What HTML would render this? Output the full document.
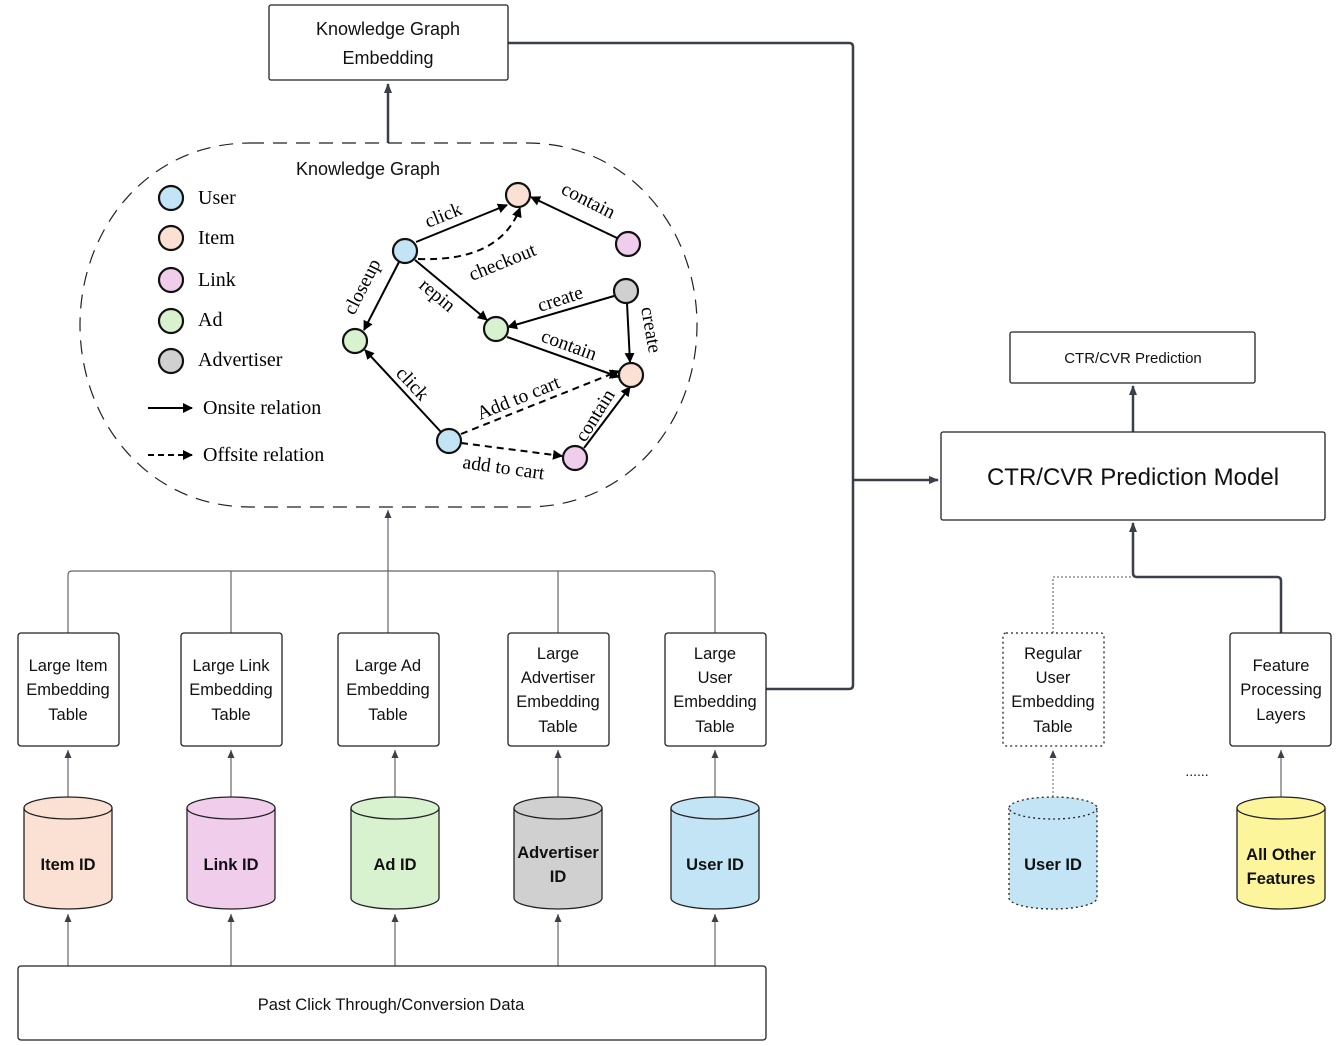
<!DOCTYPE html>
<html><head><meta charset="utf-8"><style>
html,body{margin:0;padding:0;background:#fff;}
svg{display:block;}
.s{font-family:"Liberation Sans",sans-serif;fill:#111;}
.r{font-family:"Liberation Serif",serif;fill:#000;}
</style></head><body>
<svg width="1337" height="1046" viewBox="0 0 1337 1046" xmlns="http://www.w3.org/2000/svg">
<defs>
<marker id="ab" markerWidth="10" markerHeight="10" refX="9" refY="5" orient="auto" markerUnits="userSpaceOnUse"><path d="M0,0 L10,5 L0,10 z" fill="#000"/></marker>
<marker id="ag" markerWidth="10" markerHeight="10" refX="9" refY="5" orient="auto" markerUnits="userSpaceOnUse"><path d="M0,1 L10,5 L0,9 z" fill="#3a3f4a"/></marker>
<marker id="as" markerWidth="8" markerHeight="8" refX="8" refY="4" orient="auto" markerUnits="userSpaceOnUse"><path d="M0,0.5 L8,4 L0,7.5 z" fill="#3a3f4a"/></marker>
</defs>

<g fill="none" stroke="#3a3f4a" stroke-width="2.5">
<path d="M508,43 H849 Q853,43 853,47 V685 Q853,689 849,689 H766"/>
<path d="M853,480 H938" marker-end="url(#ag)"/>
<path d="M388,143 V84" marker-end="url(#ag)"/>
<path d="M1133,432 V386" marker-end="url(#ag)"/>
<path d="M1281,633 V581 Q1281,577 1277,577 H1137 Q1133,577 1133,573 V523" marker-end="url(#ag)"/>
</g>
<path d="M1053,633 V577 H1133" fill="none" stroke="#555" stroke-width="1" stroke-dasharray="2,2"/>

<g fill="none" stroke="#666" stroke-width="1.2">
<path d="M68,633 V575 Q68,571 72,571 H711 Q715,571 715,575 V633"/>
<path d="M231,633 V571 M388,633 V571 M558,633 V571"/>
<path d="M388,571 V510" marker-end="url(#as)"/>
<path d="M68,797 V750" marker-end="url(#as)"/>
<path d="M231,797 V750" marker-end="url(#as)"/>
<path d="M395,797 V750" marker-end="url(#as)"/>
<path d="M558,797 V750" marker-end="url(#as)"/>
<path d="M715,797 V750" marker-end="url(#as)"/>
<path d="M1281,797 V750" marker-end="url(#as)"/>
<path d="M68,966 V914" marker-end="url(#as)"/>
<path d="M231,966 V914" marker-end="url(#as)"/>
<path d="M395,966 V914" marker-end="url(#as)"/>
<path d="M558,966 V914" marker-end="url(#as)"/>
<path d="M715,966 V914" marker-end="url(#as)"/>
</g>
<path d="M1053,797 V750" fill="none" stroke="#666" stroke-width="1" stroke-dasharray="2,2" marker-end="url(#as)"/>

<g fill="#fff" stroke="#222" stroke-width="1.3">
<rect x="269" y="5" width="239" height="75" rx="2"/>
<rect x="1010" y="332" width="245" height="51" rx="2"/>
<rect x="941" y="432" width="384" height="88" rx="2"/>
<rect x="18" y="633" width="101" height="113" rx="3"/>
<rect x="181" y="633" width="101" height="113" rx="3"/>
<rect x="338" y="633" width="101" height="113" rx="3"/>
<rect x="508" y="633" width="101" height="113" rx="3"/>
<rect x="665" y="633" width="101" height="113" rx="3"/>
<rect x="1230" y="633" width="101" height="113" rx="3"/>
<rect x="18" y="966" width="748" height="74" rx="3"/>
</g>
<rect x="1003" y="633" width="101" height="113" rx="3" fill="#fff" stroke="#222" stroke-width="1.3" stroke-dasharray="2,3"/>

<g class="s" font-size="18" text-anchor="middle">
<text x="388" y="35">Knowledge Graph</text>
<text x="388" y="64">Embedding</text>
</g>
<text class="s" x="1133" y="363" font-size="15" text-anchor="middle">CTR/CVR Prediction</text>
<text class="s" x="1133" y="485" font-size="24" text-anchor="middle">CTR/CVR Prediction Model</text>
<g class="s" font-size="16.5" text-anchor="middle">
<text x="68" y="671">Large Item</text><text x="68" y="695">Embedding</text><text x="68" y="720">Table</text>
<text x="231" y="671">Large Link</text><text x="231" y="695">Embedding</text><text x="231" y="720">Table</text>
<text x="388" y="671">Large Ad</text><text x="388" y="695">Embedding</text><text x="388" y="720">Table</text>
<text x="558" y="659">Large</text><text x="558" y="683">Advertiser</text><text x="558" y="707">Embedding</text><text x="558" y="732">Table</text>
<text x="715" y="659">Large</text><text x="715" y="683">User</text><text x="715" y="707">Embedding</text><text x="715" y="732">Table</text>
<text x="1053" y="659">Regular</text><text x="1053" y="683">User</text><text x="1053" y="707">Embedding</text><text x="1053" y="732">Table</text>
<text x="1281" y="671">Feature</text><text x="1281" y="695">Processing</text><text x="1281" y="720">Layers</text>
<text x="391" y="1010">Past Click Through/Conversion Data</text>
</g>
<text class="s" x="1197" y="776" font-size="14" text-anchor="middle">......</text>

<g stroke="#222" stroke-width="1.3">
<g fill="#fbe1d3"><path d="M24,808 V898 A44,11 0 0 0 112,898 V808"/><ellipse cx="68" cy="808" rx="44" ry="11"/></g>
<g fill="#f1cdec"><path d="M187,808 V898 A44,11 0 0 0 275,898 V808"/><ellipse cx="231" cy="808" rx="44" ry="11"/></g>
<g fill="#d8f2d0"><path d="M351,808 V898 A44,11 0 0 0 439,898 V808"/><ellipse cx="395" cy="808" rx="44" ry="11"/></g>
<g fill="#d0d0d0"><path d="M514,808 V898 A44,11 0 0 0 602,898 V808"/><ellipse cx="558" cy="808" rx="44" ry="11"/></g>
<g fill="#c3e4f4"><path d="M671,808 V898 A44,11 0 0 0 759,898 V808"/><ellipse cx="715" cy="808" rx="44" ry="11"/></g>
<g fill="#fdf59c"><path d="M1237,808 V898 A44,11 0 0 0 1325,898 V808"/><ellipse cx="1281" cy="808" rx="44" ry="11"/></g>
<g fill="#c3e4f4" stroke-dasharray="2,3"><path d="M1009,808 V898 A44,11 0 0 0 1097,898 V808"/><ellipse cx="1053" cy="808" rx="44" ry="11"/></g>
</g>
<g class="s" font-size="16.5" font-weight="bold" text-anchor="middle">
<text x="68" y="870">Item ID</text>
<text x="231" y="870">Link ID</text>
<text x="395" y="870">Ad ID</text>
<text x="558" y="858">Advertiser</text><text x="558" y="882">ID</text>
<text x="715" y="870">User ID</text>
<text x="1053" y="870">User ID</text>
<text x="1281" y="860">All Other</text><text x="1281" y="884">Features</text>
</g>

<path d="M250,143 H527 C630,143 697,230 697,325 C697,420 630,507 527,507 H250 C147,507 80,420 80,325 C80,230 147,143 250,143 Z" fill="none" stroke="#222" stroke-width="1.2" stroke-dasharray="14,9"/>
<text class="s" x="368" y="175" font-size="18" text-anchor="middle">Knowledge Graph</text>

<g stroke="#111" stroke-width="2.2">
<circle cx="171" cy="198" r="12" fill="#c3e4f4"/>
<circle cx="171" cy="238" r="12" fill="#fbe1d3"/>
<circle cx="171" cy="280" r="12" fill="#f1cdec"/>
<circle cx="171" cy="321" r="12" fill="#d8f2d0"/>
<circle cx="171" cy="361" r="12" fill="#d0d0d0"/>
</g>
<g class="r" font-size="20">
<text x="198" y="204">User</text><text x="198" y="244">Item</text><text x="198" y="286">Link</text>
<text x="198" y="326">Ad</text><text x="198" y="366">Advertiser</text>
<text x="203" y="414">Onsite relation</text><text x="203" y="461">Offsite relation</text>
</g>
<g fill="none" stroke="#000" stroke-width="2">
<path d="M148,408 H192" marker-end="url(#ab)"/>
<path d="M148,455 H192" stroke-dasharray="6,4" marker-end="url(#ab)"/>
<path d="M416,242 L507,205" marker-end="url(#ab)"/>
<path d="M418,259 Q500,262 520,208" stroke-dasharray="7,5" marker-end="url(#ab)"/>
<path d="M617,238 L531,197" marker-end="url(#ab)"/>
<path d="M399,262 L364,330" marker-end="url(#ab)"/>
<path d="M415,260 L487,320" marker-end="url(#ab)"/>
<path d="M614,296 L508,327" marker-end="url(#ab)"/>
<path d="M627,303 L630,362" marker-end="url(#ab)"/>
<path d="M507,337 L619,377" marker-end="url(#ab)"/>
<path d="M441,432 L365,350" marker-end="url(#ab)"/>
<path d="M461,434 L619,371" stroke-dasharray="7,5" marker-end="url(#ab)"/>
<path d="M461,443 L562,456" stroke-dasharray="7,5" marker-end="url(#ab)"/>
<path d="M584,448 L630,387" marker-end="url(#ab)"/>
</g>
<g stroke="#111" stroke-width="2.2">
<circle cx="405" cy="251" r="12" fill="#c3e4f4"/>
<circle cx="518" cy="195" r="12" fill="#fbe1d3"/>
<circle cx="628" cy="244" r="12" fill="#f1cdec"/>
<circle cx="626" cy="291" r="12" fill="#d0d0d0"/>
<circle cx="496" cy="329" r="12" fill="#d8f2d0"/>
<circle cx="355" cy="341" r="12" fill="#d8f2d0"/>
<circle cx="631" cy="375" r="12" fill="#fbe1d3"/>
<circle cx="449" cy="441" r="12" fill="#c3e4f4"/>
<circle cx="575" cy="458" r="12" fill="#f1cdec"/>
</g>
<g class="r" font-size="19.5">
<text transform="translate(428,228) rotate(-22)">click</text>
<text transform="translate(560,193) rotate(27)">contain</text>
<text transform="translate(472,281) rotate(-22)">checkout</text>
<text transform="translate(354,316) rotate(-63)">closeup</text>
<text transform="translate(418,287) rotate(40)">repin</text>
<text transform="translate(540,312) rotate(-18)">create</text>
<text transform="translate(641,308) rotate(80)">create</text>
<text transform="translate(540,341) rotate(20)">contain</text>
<text transform="translate(395,374) rotate(47)">click</text>
<text transform="translate(480,420) rotate(-22)">Add to cart</text>
<text transform="translate(585,443) rotate(-58)">contain</text>
<text transform="translate(462,468) rotate(8)">add to cart</text>
</g>
</svg>
</body></html>
